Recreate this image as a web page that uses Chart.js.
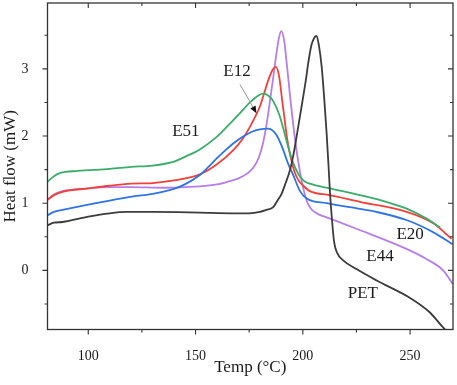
<!DOCTYPE html>
<html>
<head>
<meta charset="utf-8">
<title>DSC heat flow</title>
<script src="https://cdn.jsdelivr.net/npm/chart.js"></script>
<style>
  html, body { margin: 0; padding: 0; background: #fff; }
  #wrap { width: 457px; height: 385px; }
</style>
</head>
<body>
<div id="wrap"><canvas id="dsc" width="457" height="385"></canvas></div>
<script>
// Temperatures (°C) and heat flow (mW)
const e51Temp = [81, 84, 87, 95, 110, 120, 130, 140, 145, 152, 160, 165, 170.7, 176, 181.5, 184, 186.2, 189, 191, 193, 195.5, 198, 200.2, 203.3, 212.6, 226.6, 240, 248.4, 257.7, 264];
const e51Flow = [1.32, 1.40, 1.45, 1.48, 1.51, 1.54, 1.56, 1.62, 1.69, 1.80, 1.99, 2.15, 2.34, 2.52, 2.63, 2.60, 2.52, 2.32, 2.10, 1.86, 1.60, 1.43, 1.34, 1.29, 1.22, 1.12, 1.01, 0.92, 0.77, 0.64];

const e12Temp = [81, 84, 88, 100, 110, 120, 130, 140, 152, 160, 167.6, 172, 175.4, 178, 180, 182, 184, 186, 187.5, 189, 190.3, 191.5, 192.7, 194.2, 196, 198, 200.2, 203.3, 212.6, 226.6, 248.4, 260.8, 269.3];
const e12Flow = [1.05, 1.12, 1.17, 1.22, 1.26, 1.29, 1.30, 1.34, 1.43, 1.58, 1.79, 1.96, 2.14, 2.30, 2.44, 2.64, 2.84, 2.99, 3.03, 2.88, 2.55, 2.25, 1.96, 1.70, 1.48, 1.34, 1.26, 1.18, 1.12, 1.02, 0.87, 0.70, 0.47];

const e44Temp = [81, 84, 88, 100, 110, 120, 135, 145, 152, 160, 165, 170, 174, 177, 179.5, 181.5, 183, 184.5, 186, 187.5, 188.8, 190, 191.3, 192.7, 194.2, 195.6, 197, 198.5, 200, 202, 204, 207, 211.1, 225, 248.3, 257.6, 265.4, 269.8];
const e44Flow = [1.05, 1.13, 1.18, 1.22, 1.24, 1.24, 1.23, 1.24, 1.25, 1.28, 1.32, 1.37, 1.44, 1.53, 1.68, 1.90, 2.15, 2.48, 2.82, 3.18, 3.45, 3.56, 3.42, 3.02, 2.55, 2.15, 1.80, 1.50, 1.25, 1.02, 0.91, 0.84, 0.79, 0.62, 0.32, 0.17, 0.00, -0.20];

const e20Temp = [81, 84, 88, 100, 110, 121, 130, 139.6, 145, 152, 156, 160, 164, 168, 172, 176, 180, 183.9, 186, 187.8, 189.5, 190.9, 193, 195.5, 198.7, 201.8, 211.1, 221.9, 234.3, 248.3, 260.7, 269.8];
const e20Flow = [0.82, 0.87, 0.90, 0.98, 1.04, 1.10, 1.14, 1.21, 1.28, 1.42, 1.54, 1.67, 1.79, 1.90, 1.99, 2.06, 2.10, 2.11, 2.08, 2.01, 1.90, 1.79, 1.60, 1.42, 1.18, 1.07, 1.00, 0.94, 0.87, 0.75, 0.57, 0.39];

const petTemp = [81, 84, 88, 100, 110, 118, 130, 152, 167, 175, 180, 183, 186.2, 188, 190.1, 192, 194, 195.5, 197.1, 198.7, 200.2, 201.5, 202.5, 204, 205.3, 206.4, 207.5, 208.8, 210, 211.1, 212, 212.6, 213.6, 214.6, 216, 218.8, 225, 234.4, 250, 259, 266, 270];
const petFlow = [0.67, 0.71, 0.72, 0.80, 0.85, 0.87, 0.87, 0.86, 0.85, 0.85, 0.87, 0.90, 0.94, 1.03, 1.14, 1.30, 1.49, 1.70, 1.99, 2.30, 2.59, 2.85, 3.08, 3.35, 3.46, 3.49, 3.35, 3.03, 2.55, 2.04, 1.55, 1.19, 0.75, 0.42, 0.26, 0.15, 0.02, -0.15, -0.41, -0.62, -0.87, -0.98];

// axis ticks
const xMajor = [100, 150, 200, 250];
const xMinor = [125, 175, 225];
const yMajor = [0, 1, 2, 3];
const yMinor = [-0.5, 0.5, 1.5, 2.5, 3.5];

// curve labels (data coordinates)
const labelText = ['E12', 'E51', 'E20', 'E44', 'PET'];
const labelTemp = [169.3, 145.5, 250, 236, 228];
const labelFlow = [2.96, 2.06, 0.53, 0.20, -0.34];
// E12 arrow
const arrowTemp = [170.7, 178.4];
const arrowFlow = [2.77, 2.34];

const serif = 'Liberation Serif, Times New Roman, serif';

const pts = (t, f) => t.map((v, i) => ({ x: v, y: f[i] }));

function series(label, t, f, color) {
  return {
    label: label,
    data: pts(t, f),
    borderColor: color,
    backgroundColor: color,
    borderWidth: 1.8,
    pointRadius: 0,
    cubicInterpolationMode: 'monotone',
    fill: false
  };
}

// frame, inward/outward ticks, curve labels and the E12 arrow
const decorations = {
  id: 'decorations',
  afterDatasetsDraw(chart) {
    const { ctx, chartArea: a, scales: { x, y } } = chart;
    ctx.save();
    ctx.strokeStyle = '#333';
    ctx.lineWidth = 1.3;
    ctx.strokeRect(a.left, a.top, a.right - a.left, a.bottom - a.top);

    ctx.lineWidth = 1.1;
    ctx.beginPath();
    const xt = (v, len) => {
      const px = x.getPixelForValue(v);
      ctx.moveTo(px, a.bottom); ctx.lineTo(px, a.bottom + len);
      ctx.moveTo(px, a.top); ctx.lineTo(px, a.top + len);
    };
    const yt = (v, len) => {
      const py = y.getPixelForValue(v);
      ctx.moveTo(a.left, py); ctx.lineTo(a.left - len, py);
      ctx.moveTo(a.right, py); ctx.lineTo(a.right - len, py);
    };
    xMajor.forEach(v => xt(v, 5));
    xMinor.forEach(v => xt(v, 3));
    yMajor.forEach(v => yt(v, 5));
    yMinor.forEach(v => yt(v, 3));
    ctx.stroke();

    // labels
    ctx.fillStyle = '#1a1a1a';
    ctx.font = '17px ' + serif;
    ctx.textAlign = 'center';
    ctx.textBaseline = 'middle';
    labelText.forEach((s, i) => {
      ctx.fillText(s, x.getPixelForValue(labelTemp[i]), y.getPixelForValue(labelFlow[i]));
    });

    // arrow
    const x0 = x.getPixelForValue(arrowTemp[0]), y0 = y.getPixelForValue(arrowFlow[0]);
    const x1 = x.getPixelForValue(arrowTemp[1]), y1 = y.getPixelForValue(arrowFlow[1]);
    const ang = Math.atan2(y1 - y0, x1 - x0);
    ctx.strokeStyle = '#999';
    ctx.lineWidth = 1;
    ctx.beginPath();
    ctx.moveTo(x0, y0);
    ctx.lineTo(x1 - 5 * Math.cos(ang), y1 - 5 * Math.sin(ang));
    ctx.stroke();
    ctx.fillStyle = '#111';
    ctx.beginPath();
    ctx.moveTo(x1, y1);
    ctx.lineTo(x1 - 7 * Math.cos(ang) + 3 * Math.sin(ang), y1 - 7 * Math.sin(ang) - 3 * Math.cos(ang));
    ctx.lineTo(x1 - 7 * Math.cos(ang) - 3 * Math.sin(ang), y1 - 7 * Math.sin(ang) + 3 * Math.cos(ang));
    ctx.closePath();
    ctx.fill();
    ctx.restore();
  }
};

new Chart(document.getElementById('dsc').getContext('2d'), {
  type: 'line',
  data: {
    datasets: [
      series('PET', petTemp, petFlow, '#3c3c3c'),
      series('E20', e20Temp, e20Flow, '#2f74e6'),
      series('E51', e51Temp, e51Flow, '#3aad6a'),
      series('E12', e12Temp, e12Flow, '#f2413a'),
      series('E44', e44Temp, e44Flow, '#b57ee8')
    ]
  },
  options: {
    responsive: false,
    animation: false,
    devicePixelRatio: 1,
    layout: { padding: { top: 3, right: 4, left: 0, bottom: 0 } },
    plugins: { legend: { display: false }, tooltip: { enabled: false } },
    scales: {
      x: {
        type: 'linear',
        min: 81,
        max: 270,
        afterBuildTicks: s => { s.ticks = xMajor.map(v => ({ value: v })); },
        afterFit: s => { s.height = 55.5; s.paddingLeft = 0; s.paddingRight = 0; },
        grid: { display: false },
        border: { display: false },
        ticks: { padding: 10, color: '#1a1a1a', font: { family: serif, size: 14 } },
        title: {
          display: true,
          text: 'Temp (°C)',
          color: '#1a1a1a',
          font: { family: serif, size: 17 },
          padding: { top: 0, bottom: 7 }
        }
      },
      y: {
        type: 'linear',
        min: -0.88,
        max: 3.98,
        afterBuildTicks: s => { s.ticks = yMajor.map(v => ({ value: v })); },
        afterFit: s => { s.width = 47.5; s.paddingTop = 0; s.paddingBottom = 0; },
        grid: { display: false },
        border: { display: false },
        ticks: { padding: 11, color: '#1a1a1a', font: { family: serif, size: 14 } },
        title: {
          display: true,
          text: 'Heat flow (mW)',
          color: '#1a1a1a',
          font: { family: serif, size: 17 },
          padding: { top: 0, bottom: 0 }
        }
      }
    }
  },
  plugins: [decorations]
});
</script>
</body>
</html>
